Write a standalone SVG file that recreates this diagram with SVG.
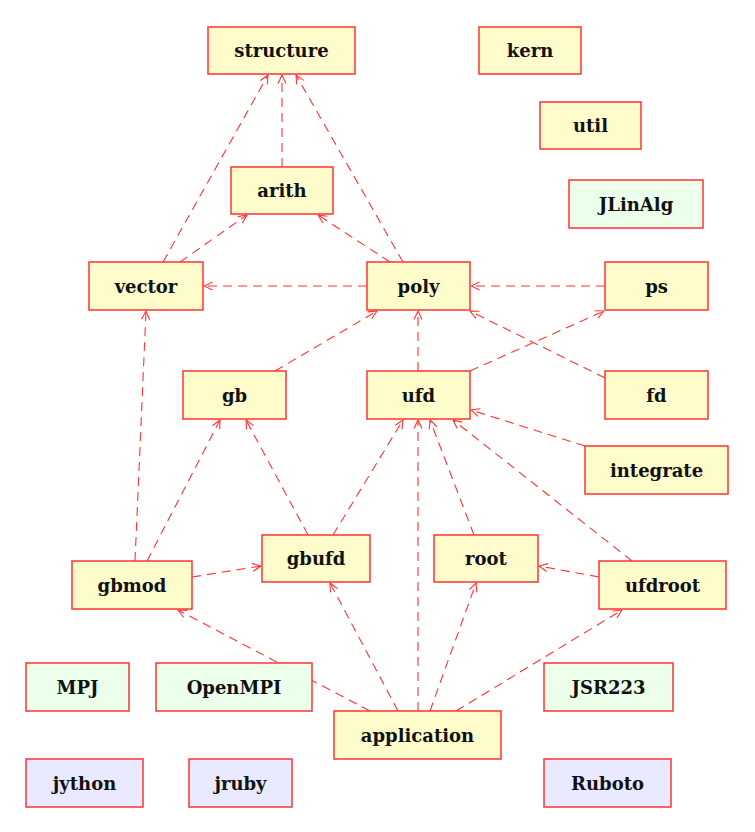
<svg xmlns="http://www.w3.org/2000/svg" width="755" height="832" viewBox="0 0 755 832">
<style>
rect{stroke:#ff3333;stroke-width:1.5}
.y{fill:#fffccc}
.g{fill:#ebffeb}
.b{fill:#e9e9ff}
text{font-family:"DejaVu Serif","Liberation Serif",serif;font-weight:bold;font-size:18px;text-anchor:middle;fill:#111}
#edges path{fill:none;stroke:#ff3333;stroke-width:1.1;stroke-dasharray:9,6;marker-end:url(#ah)}
</style>
<defs>
<marker id="ah" viewBox="0 0 10 10" refX="9.5" refY="5" markerWidth="10" markerHeight="10" markerUnits="userSpaceOnUse" orient="auto">
<path d="M1,1 L9.5,5 L1,9" fill="none" stroke="#ff3333" stroke-width="1.1"/>
</marker>
</defs>
<rect width="755" height="832" fill="#fff" style="stroke:none"/>
<g id="edges">
<path d="M163,262 L268,75"/>
<path d="M282,167 L282,75"/>
<path d="M403,262 L296,75"/>
<path d="M180,262 L247,215"/>
<path d="M390,262 L318,215"/>
<path d="M367,286 L204,286"/>
<path d="M605,286 L471,286"/>
<path d="M275,371 L377,311"/>
<path d="M418,371 L418,311"/>
<path d="M605,378 L470,311"/>
<path d="M470,371 L604,311"/>
<path d="M135,561 L146,311"/>
<path d="M147,561 L220,420"/>
<path d="M308,535 L246,420"/>
<path d="M333,535 L403,420"/>
<path d="M192,577 L261,566"/>
<path d="M474,535 L430,420"/>
<path d="M632,561 L453,420"/>
<path d="M585,446 L471,410"/>
<path d="M599,577 L539,566"/>
<path d="M418,711 L418,420"/>
<path d="M398,711 L330,583"/>
<path d="M430,711 L476,583"/>
<path d="M456,711 L622,610"/>
<path d="M370,711 L178,610"/>
</g>
<g id="structure"><rect class="y" x="208" y="27" width="147" height="47"/><text x="281.5" y="56.5">structure</text></g>
<g id="kern"><rect class="y" x="479" y="27" width="102" height="47"/><text x="530" y="56.5">kern</text></g>
<g id="util"><rect class="y" x="540" y="102" width="101" height="47"/><text x="590.5" y="131.5">util</text></g>
<g id="arith"><rect class="y" x="231" y="167" width="102" height="47"/><text x="282" y="196.5">arith</text></g>
<g id="JLinAlg"><rect class="g" x="569" y="180" width="134" height="48"/><text x="636" y="210.5">JLinAlg</text></g>
<g id="vector"><rect class="y" x="89" y="262" width="114" height="48"/><text x="146" y="292.5">vector</text></g>
<g id="poly"><rect class="y" x="367" y="262" width="103" height="48"/><text x="418.5" y="292.5">poly</text></g>
<g id="ps"><rect class="y" x="605" y="262" width="103" height="48"/><text x="656.5" y="292.5">ps</text></g>
<g id="gb"><rect class="y" x="183" y="371" width="103" height="48"/><text x="234.5" y="401.5">gb</text></g>
<g id="ufd"><rect class="y" x="367" y="371" width="103" height="48"/><text x="418.5" y="401.5">ufd</text></g>
<g id="fd"><rect class="y" x="605" y="371" width="103" height="48"/><text x="656.5" y="401.5">fd</text></g>
<g id="integrate"><rect class="y" x="585" y="446" width="143" height="48"/><text x="656.5" y="476.5">integrate</text></g>
<g id="gbufd"><rect class="y" x="262" y="535" width="108" height="47"/><text x="316" y="564.5">gbufd</text></g>
<g id="root"><rect class="y" x="434" y="535" width="104" height="47"/><text x="486" y="564.5">root</text></g>
<g id="gbmod"><rect class="y" x="72" y="561" width="120" height="48"/><text x="132" y="591.5">gbmod</text></g>
<g id="ufdroot"><rect class="y" x="599" y="561" width="127" height="48"/><text x="662.5" y="591.5">ufdroot</text></g>
<g id="MPJ"><rect class="g" x="26" y="663" width="103" height="48"/><text x="77.5" y="693.5">MPJ</text></g>
<g id="OpenMPI"><rect class="g" x="156" y="663" width="156" height="48"/><text x="234" y="693.5">OpenMPI</text></g>
<g id="JSR223"><rect class="g" x="544" y="663" width="129" height="48"/><text x="608.5" y="693.5">JSR223</text></g>
<g id="application"><rect class="y" x="334" y="711" width="167" height="48"/><text x="417.5" y="741.5">application</text></g>
<g id="jython"><rect class="b" x="26" y="759" width="117" height="48"/><text x="84.5" y="789.5">jython</text></g>
<g id="jruby"><rect class="b" x="189" y="759" width="103" height="48"/><text x="240.5" y="789.5">jruby</text></g>
<g id="Ruboto"><rect class="b" x="544" y="759" width="127" height="48"/><text x="607.5" y="789.5">Ruboto</text></g>
</svg>
